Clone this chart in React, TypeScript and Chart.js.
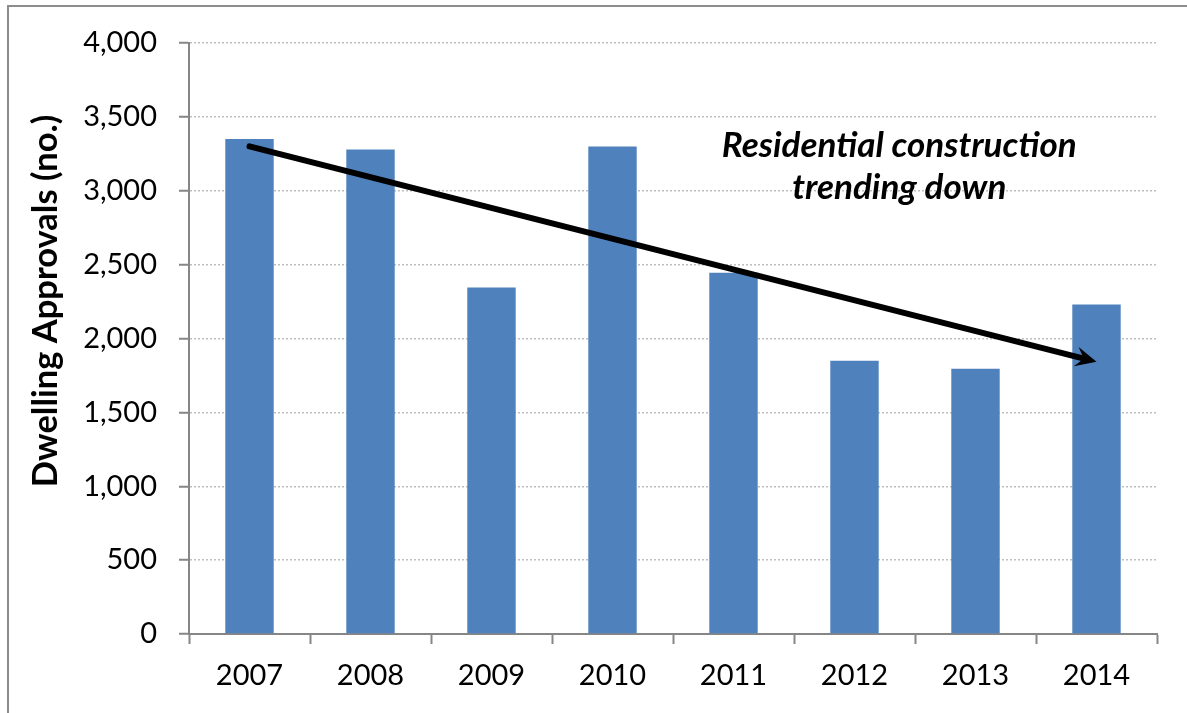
import React, { useEffect, useRef } from "react";
import { Chart, registerables } from "chart.js";

Chart.register(...registerables);

const years = ["2007", "2008", "2009", "2010", "2011", "2012", "2013", "2014"];
const approvals = [3350, 3280, 2345, 3300, 2445, 1850, 1795, 2230];
const yTicks = [0, 500, 1000, 1500, 2000, 2500, 3000, 3500, 4000];
const yAxisTitle = "Dwelling Approvals (no.)";
const noteLines = ["Residential construction", "trending down"];
// trend arrow endpoints in data units: [category index, value]
const trendFrom = [0, 3300];
const trendTo = [7, 1842];
// note anchor in data units: [category index, value] for each line baseline
const noteAnchors = [
  [5.37, 3228],
  [5.37, 2942],
];

const AXIS_GREY = "#868686";
const BAR_BLUE = "#4F81BD";

const overlayPlugin = {
  id: "overlay",
  afterDraw(chart: any) {
    const { ctx } = chart;
    const xs = chart.scales.x;
    const ys = chart.scales.y;
    ctx.save();

    // outer frame
    ctx.strokeStyle = "#8c8c8c";
    ctx.lineWidth = 2;
    ctx.beginPath();
    ctx.moveTo(8, chart.height);
    ctx.lineTo(8, 6);
    ctx.lineTo(chart.width, 6);
    ctx.stroke();

    // y axis title
    ctx.save();
    ctx.translate(57, 301);
    ctx.rotate(-Math.PI / 2);
    ctx.font = "bold 34.5px Lato";
    ctx.fillStyle = "#000";
    ctx.textAlign = "center";
    ctx.textBaseline = "alphabetic";
    ctx.fillText(yAxisTitle, 0, 0);
    ctx.restore();

    // trend arrow
    const x0 = xs.getPixelForValue(trendFrom[0]);
    const y0 = ys.getPixelForValue(trendFrom[1]);
    const x1 = xs.getPixelForValue(trendTo[0]);
    const y1 = ys.getPixelForValue(trendTo[1]);
    const dx = x1 - x0;
    const dy = y1 - y0;
    const len = Math.hypot(dx, dy);
    const ux = dx / len;
    const uy = dy / len;
    const nx = -uy;
    const ny = ux;
    const headL = 21;
    const headW = 10;
    const notch = 13;
    ctx.strokeStyle = "#000";
    ctx.fillStyle = "#000";
    ctx.lineWidth = 6;
    ctx.lineCap = "round";
    ctx.beginPath();
    ctx.moveTo(x0, y0);
    ctx.lineTo(x1 - ux * (notch + 1), y1 - uy * (notch + 1));
    ctx.stroke();
    ctx.beginPath();
    ctx.moveTo(x1, y1);
    ctx.lineTo(x1 - ux * headL + nx * headW, y1 - uy * headL + ny * headW);
    ctx.lineTo(x1 - ux * notch, y1 - uy * notch);
    ctx.lineTo(x1 - ux * headL - nx * headW, y1 - uy * headL - ny * headW);
    ctx.closePath();
    ctx.fill();

    // note text
    ctx.font = "italic bold 35px Lato";
    ctx.textAlign = "center";
    ctx.textBaseline = "alphabetic";
    noteLines.forEach((line, i) => {
      const px = xs.getPixelForValue(noteAnchors[i][0]);
      const py = ys.getPixelForValue(noteAnchors[i][1]);
      ctx.fillText(line, px, py);
    });

    ctx.restore();
  },
};

export default function App() {
  const canvasRef = useRef<HTMLCanvasElement | null>(null);

  useEffect(() => {
    const canvas = canvasRef.current;
    if (!canvas) return;
    const chart = new Chart(canvas, {
      type: "bar",
      data: {
        labels: years,
        datasets: [
          {
            data: approvals,
            backgroundColor: BAR_BLUE,
            borderWidth: 0,
            barPercentage: 0.4,
            categoryPercentage: 1.0,
          },
        ],
      },
      options: {
        responsive: false,
        animation: false,
        devicePixelRatio: 1,
        layout: { padding: { top: 43, right: 30, left: 0, bottom: 0 } },
        plugins: {
          legend: { display: false },
          tooltip: { enabled: false },
          title: { display: false },
        },
        scales: {
          x: {
            offset: true,
            grid: {
              display: true,
              offset: true,
              drawOnChartArea: false,
              drawTicks: true,
              tickLength: 10,
              tickColor: AXIS_GREY,
              tickWidth: 2,
            },
            border: { display: true, color: AXIS_GREY, width: 2 },
            ticks: {
              font: { family: "Lato", size: 29 },
              color: "#000",
              padding: 14,
              maxRotation: 0,
              autoSkip: false,
            },
            afterFit: (s: any) => {
              s.height = 79;
            },
          },
          y: {
            min: 0,
            max: 4000,
            afterBuildTicks: (s: any) => {
              s.ticks = yTicks.map((v) => ({ value: v }));
            },
            ticks: {
              font: { family: "Lato", size: 29 },
              color: "#000",
              padding: 22,
              callback: (v: any) => Number(v).toLocaleString("en-US"),
            },
            grid: {
              color: "#BFBFBF",
              lineWidth: 1.5,
              drawTicks: true,
              tickLength: 10,
              tickColor: AXIS_GREY,
              tickWidth: 2,
            },
            border: { display: true, color: AXIS_GREY, width: 2, dash: [2, 2] },
            afterFit: (s: any) => {
              s.width = 189;
            },
          },
        },
      },
      plugins: [overlayPlugin],
    });
    return () => chart.destroy();
  }, []);

  return (
    <div
      style={{
        position: "fixed",
        left: 0,
        top: 0,
        width: 1187,
        height: 713,
        background: "#fff",
      }}
    >
      <canvas ref={canvasRef} width={1187} height={713} style={{ display: "block" }} />
    </div>
  );
}
